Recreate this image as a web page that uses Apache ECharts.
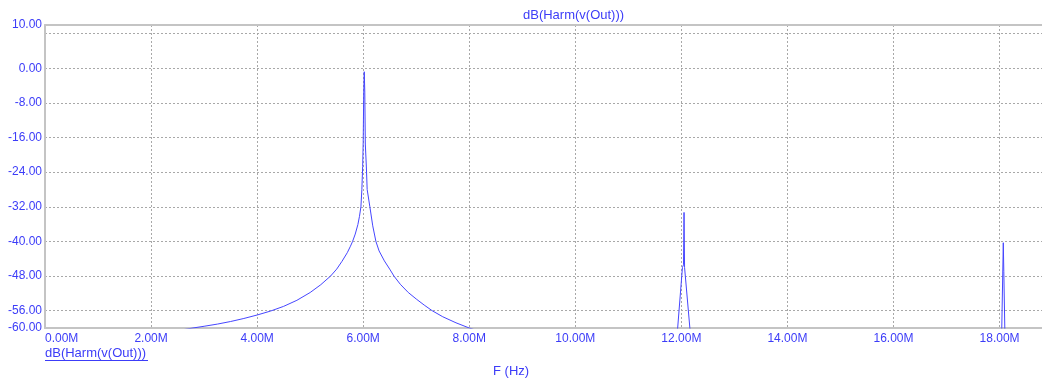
<!DOCTYPE html>
<html>
<head>
<meta charset="utf-8">
<script src="https://cdn.jsdelivr.net/npm/echarts@6/dist/echarts.min.js"></script>
<style>
html,body{margin:0;padding:0;background:#fff;}
#chart{width:1042px;height:381px;}
</style>
</head>
<body>
<div id="chart"></div>
<script>
// Frequency in MHz, level in dB
const fundamental = [
  [2.50,-60.6],[2.79,-60.0],[3.00,-59.6],[3.25,-59.1],[3.50,-58.5],[3.75,-57.8],
  [4.00,-57.0],[4.25,-56.1],[4.50,-55.0],[4.75,-53.6],[5.00,-51.8],[5.20,-50.0],
  [5.385,-48.0],[5.50,-46.4],[5.60,-44.6],[5.70,-42.6],[5.76,-41.1],[5.80,-40.0],[5.85,-38.3],
  [5.90,-36.1],[5.93,-34.2],[5.957,-32.0],[5.975,-28.0],[5.99,-22.7],
  [6.00,-17.2],[6.01,-5.7],[6.02,-0.8],[6.03,-5.5],[6.04,-17.5],[6.06,-22.8],
  [6.075,-28.0],[6.126,-32.0],[6.18,-36.4],[6.24,-40.0],[6.30,-42.2],[6.40,-44.5],
  [6.50,-46.4],[6.58,-48.0],[6.70,-49.9],[6.85,-51.8],[7.00,-53.3],[7.15,-54.7],
  [7.30,-56.0],[7.50,-57.4],[7.75,-58.8],[8.00,-60.0],[8.20,-60.8]
];
const harmonic2 = [
  [11.90,-62.0],[11.93,-60.0],[12.02,-46.0],[12.04,-45.4],[12.05,-33.3],
  [12.06,-46.0],[12.16,-60.0],[12.19,-62.0]
];
const harmonic3 = [
  [18.04,-61.0],[18.06,-47.3],[18.07,-40.3],[18.08,-47.0],[18.10,-61.0]
];
const yGridValues = [8,0,-8,-16,-24,-32,-40,-48,-56];
const yLabelValues = [10,0,-8,-16,-24,-32,-40,-48,-56,-60];
const traceName = 'dB(Harm(v(Out)))';
const xName = 'F (Hz)';

const BLUE = '#3c3cf8';
const LINE = '#4646ff';
const FRAME = '#c4c4c4';
const GRID = '#a8a8a8';
const FONT = 'Liberation Sans, Arial, sans-serif';

const chart = echarts.init(document.getElementById('chart'), null, {renderer:'canvas'});
function mkSeries(d){
  return {type:'line', data:d, showSymbol:false, symbol:'none', clip:true,
    lineStyle:{color:LINE, width:1}, itemStyle:{color:LINE}, animation:false, silent:true};
}
chart.setOption({
  animation:false,
  grid:{left:45, right:0, top:25, bottom:53, containLabel:false},
  xAxis:[{
    type:'value', min:0, max:18.8, interval:2,
    axisLine:{show:true, onZero:false, lineStyle:{color:FRAME, width:2}},
    axisTick:{show:false},
    axisLabel:{color:BLUE, fontFamily:FONT, fontSize:12, margin:5, showMaxLabel:false,
      alignMinLabel:'left',
      formatter:v=>v.toFixed(2)+'M'},
    splitLine:{show:true, lineStyle:{color:GRID, type:[2,2], width:1}}
  },{
    type:'value', position:'top', min:0, max:18.8, interval:2,
    axisLine:{show:true, onZero:false, lineStyle:{color:FRAME, width:2}},
    axisTick:{show:false}, axisLabel:{show:false}, splitLine:{show:false}
  }],
  yAxis:{
    type:'value', min:-60, max:10,
    axisLine:{show:true, onZero:false, lineStyle:{color:FRAME, width:2}},
    axisTick:{show:false, customValues:yGridValues},
    axisLabel:{color:BLUE, fontFamily:FONT, fontSize:12, margin:3,
      customValues:yLabelValues, formatter:v=>v.toFixed(2)},
    splitLine:{show:true, lineStyle:{color:GRID, type:[2,2], width:1}}
  },
  graphic:[
    {type:'text', left:523, top:9, style:{text:traceName, fill:BLUE, font:'13px '+FONT}},
    {type:'text', left:45, top:347, style:{text:traceName, fill:BLUE, font:'13px '+FONT}},
    {type:'line', shape:{x1:45, y1:360.5, x2:148, y2:360.5}, style:{stroke:BLUE, lineWidth:1}},
    {type:'text', left:493, top:365, style:{text:xName, fill:BLUE, font:'13px '+FONT}}
  ],
  series:[mkSeries(fundamental), mkSeries(harmonic2), mkSeries(harmonic3)]
});
</script>
</body>
</html>
